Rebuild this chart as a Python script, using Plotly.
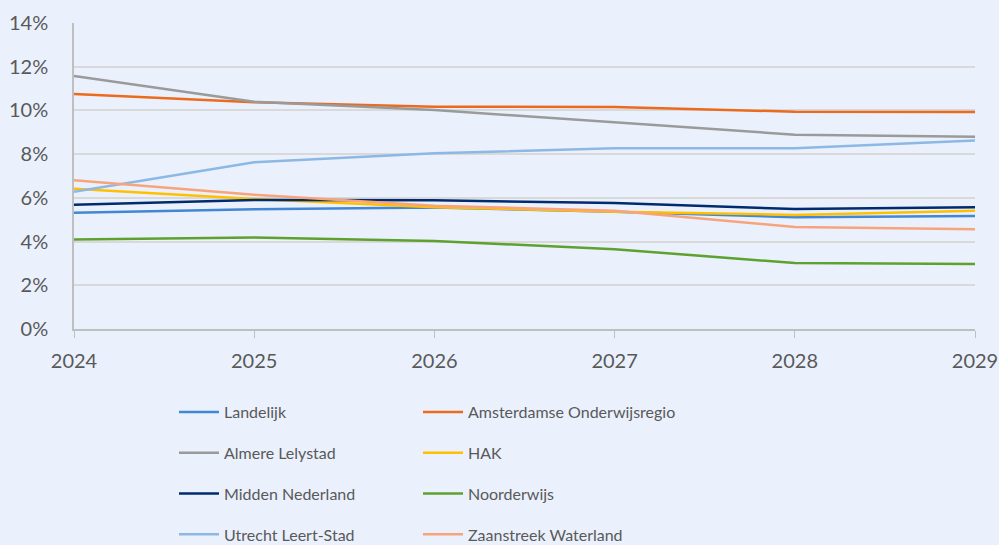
import plotly.graph_objects as go

jaren = [2024, 2025, 2026, 2027, 2028, 2029]

landelijk = [5.32, 5.48, 5.56, 5.37, 5.11, 5.17]
amsterdam = [10.75, 10.37, 10.17, 10.16, 9.94, 9.93]
almere = [11.57, 10.40, 10.02, 9.44, 8.89, 8.80]
hak = [6.42, 5.95, 5.57, 5.37, 5.22, 5.41]
midden = [5.69, 5.90, 5.89, 5.76, 5.49, 5.57]
noorderwijs = [4.09, 4.19, 4.03, 3.65, 3.02, 2.97]
utrecht = [6.28, 7.63, 8.04, 8.27, 8.27, 8.62]
zaanstreek = [6.80, 6.14, 5.64, 5.41, 4.67, 4.56]

namen = ["Landelijk", "Amsterdamse Onderwijsregio", "Almere Lelystad", "HAK",
         "Midden Nederland", "Noorderwijs", "Utrecht Leert-Stad", "Zaanstreek Waterland"]
reeksen = [landelijk, amsterdam, almere, hak, midden, noorderwijs, utrecht, zaanstreek]
kleuren = ["#4287d3", "#ec6a1c", "#9a9a9a", "#ffc000",
           "#002b6e", "#5ea12f", "#8db8e3", "#f8a47b"]

bg = "#eaf1fd"
tekst = "#595959"

fig = go.Figure()
for i, (naam, waarden, kleur) in enumerate(zip(namen, reeksen, kleuren)):
    # even index -> linker kolom, oneven -> rechter kolom
    fig.add_trace(go.Scatter(
        x=jaren, y=[v / 100 for v in waarden], name=naam, mode="lines",
        line=dict(color=kleur, width=2.5), legendgroup=naam,
        legend="legend" if i % 2 == 0 else "legend2",
    ))

leg_common = dict(orientation="v", bgcolor="rgba(0,0,0,0)", tracegroupgap=17,
                  xanchor="left", yanchor="top", xref="container", yref="container",
                  font=dict(family="Lato, sans-serif", size=16, color=tekst), itemwidth=40)

fig.update_layout(
    width=999, height=545,
    paper_bgcolor=bg, plot_bgcolor=bg,
    margin=dict(l=74, r=24, t=23, b=216, autoexpand=False),
    font=dict(family="Lato, sans-serif", size=20, color=tekst),
    showlegend=True,
    xaxis=dict(range=[2024, 2029], tickvals=jaren, showgrid=False, automargin=False,
               showline=True, linecolor="#bfbfbf", linewidth=1.5, ticklabelstandoff=6,
               ticks="outside", ticklen=7, tickcolor="#bfbfbf", zeroline=False),
    yaxis=dict(range=[0, 0.14], dtick=0.02, tickformat=".0%", showgrid=True, automargin=False,
               gridcolor="#d9d9d9", gridwidth=1.5, showline=True,
               linecolor="#bfbfbf", linewidth=1.5, zeroline=False, ticklabelstandoff=20),
    legend=dict(leg_common, x=174 / 999, y=1 - 395 / 545),
    legend2=dict(leg_common, x=418 / 999, y=1 - 395 / 545),
)

fig.write_html("out.html", config={"displayModeBar": False},
               post_script="document.body.style.margin='0';")
